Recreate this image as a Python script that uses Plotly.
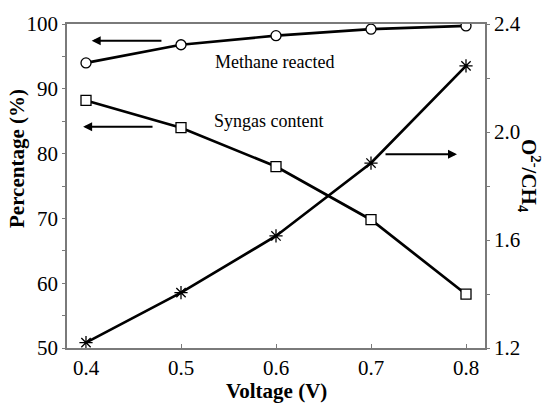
import plotly.graph_objects as go

voltage = [0.4, 0.5, 0.6, 0.7, 0.8]
methane_reacted = [94.0, 96.8, 98.2, 99.2, 99.7]
syngas_content = [88.2, 84.0, 78.0, 69.8, 58.3]
o2_ch4 = [1.22, 1.405, 1.615, 1.885, 2.245]

FONT = "'Liberation Serif', 'Times New Roman', Times, serif"
AX = "#7a7a7a"

fig = go.Figure()
fig.add_trace(go.Scatter(x=voltage, y=methane_reacted, mode="lines+markers",
                         line=dict(color="black", width=2.7),
                         marker=dict(symbol="circle", size=10, color="white",
                                     line=dict(color="black", width=1.3)),
                         yaxis="y"))
fig.add_trace(go.Scatter(x=voltage, y=syngas_content, mode="lines+markers",
                         line=dict(color="black", width=2.7),
                         marker=dict(symbol="square", size=10, color="white",
                                     line=dict(color="black", width=1.3)),
                         yaxis="y"))
fig.add_trace(go.Scatter(x=voltage, y=o2_ch4, mode="lines+markers",
                         line=dict(color="black", width=2.7),
                         marker=dict(symbol="asterisk-open", size=11, color="black",
                                     line=dict(color="black", width=1.3)),
                         yaxis="y2"))

tickfont = dict(family=FONT, size=21, color="black")
fig.update_layout(
    width=548, height=404,
    margin=dict(l=67, r=63, t=20, b=56),
    plot_bgcolor="white", paper_bgcolor="white",
    font=dict(family=FONT, color="black"),
    showlegend=False,
    xaxis=dict(range=[0.38, 0.82], tickvals=voltage, ticktext=["0.4", "0.5", "0.6", "0.7", "0.8"],
               ticks="inside", ticklen=4, tickcolor=AX, showline=True, linecolor=AX, linewidth=1.5,
               mirror=True, showgrid=False, zeroline=False, tickfont=tickfont),
    yaxis=dict(range=[50, 100], dtick=10, ticks="outside", ticklen=3, tickcolor=AX,
               minor=dict(dtick=5, ticks="outside", ticklen=3, tickcolor=AX),
               showline=True, linecolor=AX, linewidth=1.5, showgrid=False, zeroline=False,
               tickfont=tickfont),
    yaxis2=dict(range=[1.2, 2.4], tickvals=[1.2, 1.6, 2.0, 2.4], ticktext=["1.2", "1.6", "2.0", "2.4"],
                overlaying="y", side="right", ticks="outside", ticklen=3, tickcolor=AX,
                minor=dict(dtick=0.2, ticks="outside", ticklen=3, tickcolor=AX),
                showline=True, linecolor=AX, linewidth=1.5, showgrid=False, zeroline=False,
                tickfont=tickfont),
)

anns = [
    dict(text="<b>Voltage (V)</b>", xref="paper", yref="paper", x=0.5, y=0, yshift=-43,
         showarrow=False, font=dict(family=FONT, size=21, color="black"), yanchor="middle"),
    dict(text="<b>Percentage (%)</b>", xref="paper", yref="paper", x=0, xshift=-50, y=0.5, yshift=27,
         showarrow=False, textangle=-90, font=dict(family=FONT, size=21, color="black"),
         xanchor="center", yanchor="middle"),
    dict(text="<b>O<sup>2-</sup>/CH<sub>4</sub></b>", xref="paper", yref="paper", x=1, xshift=45, y=0.5,
         yshift=10, showarrow=False, textangle=90, font=dict(family=FONT, size=21, color="black"),
         xanchor="center", yanchor="middle"),
    dict(text="Methane reacted", xref="x", yref="y", x=0.5985, y=94.2, showarrow=False,
         font=dict(family=FONT, size=18, color="black")),
    dict(text="Syngas content", xref="x", yref="y", x=0.5925, y=85.1, showarrow=False,
         font=dict(family=FONT, size=18, color="black")),
]
# arrows
for (hx, hy, tx, ty) in [(0.406, 97.4, 0.481, 97.4),
                         (0.397, 84.15, 0.4716, 84.15),
                         (0.7905, 79.9, 0.7137, 79.9)]:
    anns.append(dict(x=hx, y=hy, ax=tx, ay=ty, xref="x", yref="y", axref="x", ayref="y",
                     text="", showarrow=True, arrowhead=2, arrowsize=0.9, arrowwidth=2, arrowcolor="black"))
fig.update_layout(annotations=anns)

fig.write_html("out.html")
